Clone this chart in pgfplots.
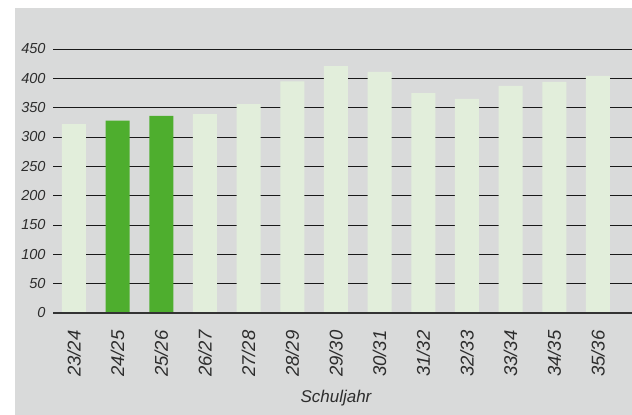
\documentclass[border=0pt]{standalone}
\usepackage{pgfplots}
\pgfplotsset{compat=1.18}
\usepackage{fontspec}
\setmainfont{Liberation Sans}
\definecolor{bg}{RGB}{217,218,218}
\definecolor{lightbar}{RGB}{226,238,219}
\definecolor{darkbar}{RGB}{78,174,46}
\definecolor{txt}{RGB}{45,45,45}
\begin{document}
\begin{tikzpicture}[x=1pt,y=1pt]
\useasboundingbox (0,0) rectangle (632,415);
\fill[bg] (15,0) rectangle (632,407);
\begin{axis}[
  at={(53pt,102pt)}, anchor=south west,
  scale only axis, width=579pt, height=264pt,
  xmin=-0.48, xmax=12.78, ymin=0, ymax=450,
  ybar, bar width=24pt, bar shift=0pt,
  axis line style={draw=none}, major tick length=0pt,
  ytick={0,50,...,450},
  xtick={0,...,12},
  xticklabels={23/24,24/25,25/26,26/27,27/28,28/29,29/30,30/31,31/32,32/33,33/34,34/35,35/36},
  ymajorgrids, grid style={black!90, line width=0.9pt},
  /pgf/number format/assume math mode=true,
  yticklabel style={font=\fontsize{14.5}{14.5}\selectfont\itshape, text=txt, anchor=east, xshift=-4pt},
  xticklabel style={font=\fontsize{18.5}{18.5}\selectfont\itshape, text=txt, rotate=90, anchor=east, xshift=-14pt},
  clip=false,
]
\addplot[fill=lightbar, draw=none] coordinates {(0,322) (3,339) (4,356) (5,395) (6,421) (7,411) (8,375) (9,365) (10,387) (11,394) (12,404)};
\addplot[fill=darkbar, draw=none] coordinates {(1,328) (2,336)};
\draw[black!80, line width=1.3pt] (axis cs:-0.48,0) -- (axis cs:12.78,0);
\node[font=\fontsize{17}{17}\selectfont\itshape, text=txt] at (axis cs:6,0) [yshift=-85pt] {Schuljahr};
\end{axis}
\end{tikzpicture}
\end{document}
